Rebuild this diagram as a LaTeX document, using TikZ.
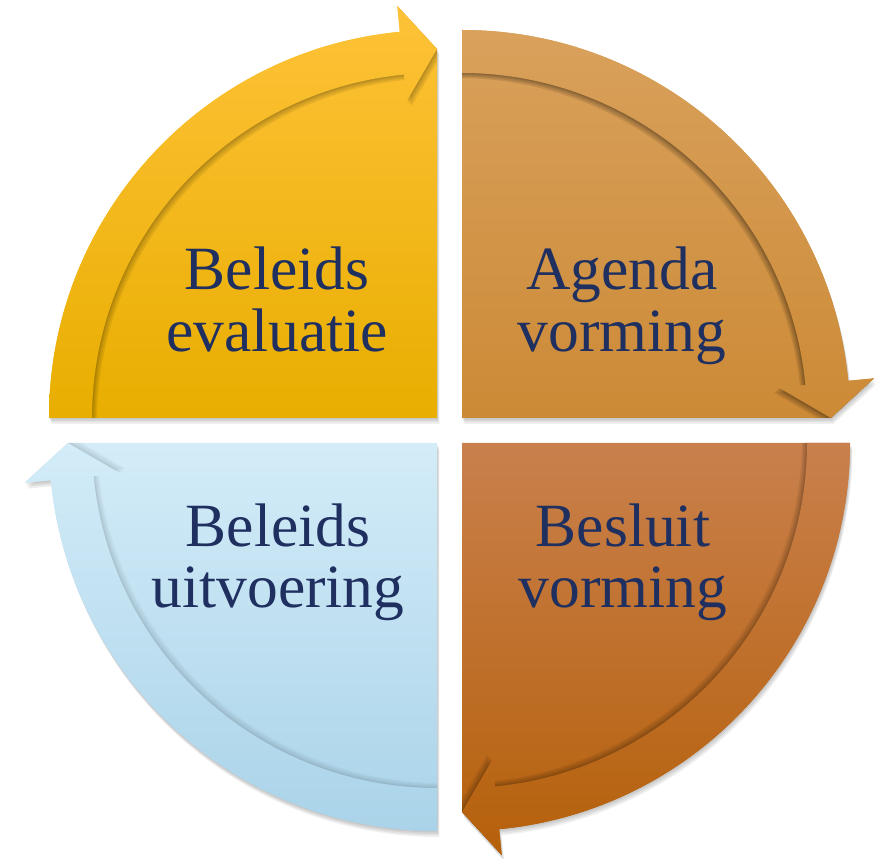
\documentclass[tikz,border=0pt]{standalone}
\usepackage{fontspec}
\setmainfont{Liberation Serif}
\definecolor{txt}{HTML}{1F3060}
\definecolor{ylA}{HTML}{FEC238}
\definecolor{ylB}{HTML}{E8AE00}
\definecolor{tnA}{HTML}{D9A15C}
\definecolor{tnB}{HTML}{CC8A36}
\definecolor{orA}{HTML}{C9804C}
\definecolor{orB}{HTML}{B5600A}
\definecolor{blA}{HTML}{D3ECF8}
\definecolor{blB}{HTML}{AAD3E9}
\def\qRo{388}
\def\qRi{345}
\def\qRh{414}
\def\qRl{318}
\def\qRt{369}
\newcommand\quadpiece[8]{%
\begin{scope}[shift={(#1,#2)}]
\pgfmathsetmacro\qs{#3}%
\pgfmathsetmacro\qe{#3-84.5}%
\pgfmathsetmacro\qt{#3-90}%
\pgfmathsetmacro\qd{#3+135}%
\def\unionpath{(0,0) -- (\qs:\qRo) arc[start angle=\qs,end angle=\qe,radius=\qRo] -- (\qe:\qRh) -- (\qt:\qRt) -- cycle}%
\def\bandpath{(\qs:\qRo) arc[start angle=\qs,end angle=\qe,radius=\qRo] -- (\qe:\qRh) -- (\qt:\qRt) -- (\qe:\qRl) -- (\qe:\qRi) arc[start angle=\qe,end angle=\qs,radius=\qRi] -- cycle}%
\foreach \k in {1.5,3,4.5,6}{\fill[black,opacity=0.06,shift={(0.4*\k,-\k)}] \unionpath;}
\shade[top color=#4,bottom color=#5] \unionpath;
\begin{scope}
\clip \unionpath;
\foreach \k in {1.5,3,5,7}{\fill[black,opacity=#8,shift={(\qd:\k)}] \bandpath;}
\end{scope}
\shade[top color=#6,bottom color=#7] \bandpath;
\end{scope}}
\tikzset{lbl/.style={text=txt,font=\fontsize{17.5pt}{18pt}\selectfont,anchor=base,inner sep=0pt}}
\begin{document}
\begin{tikzpicture}[x=0.1mm,y=0.1mm]
\useasboundingbox (0,0) rectangle (882,859);
\quadpiece{437}{441}{180}{ylA}{ylB}{ylA}{ylB}{0.07}
\quadpiece{462}{441}{90}{tnA}{tnB}{tnA}{tnB}{0.1}
\quadpiece{462}{416}{0}{orA}{orB}{orA}{orB}{0.07}
\quadpiece{437}{416}{270}{blA}{blB}{blA}{blB}{0.035}
\node[lbl] (tl1) at (277,569) {Beleids};
\node[lbl] (tl2) at (277,507) {evaluatie};
\node[lbl] (tr1) at (622,569) {Agenda};
\node[lbl] (tr2) at (622,507) {vorming};
\node[lbl] (bl1) at (278,312) {Beleids};
\node[lbl] (bl2) at (278,251) {uitvoering};
\node[lbl] (br1) at (623,312) {Besluit};
\node[lbl] (br2) at (623,251) {vorming};
\end{tikzpicture}
\end{document}
